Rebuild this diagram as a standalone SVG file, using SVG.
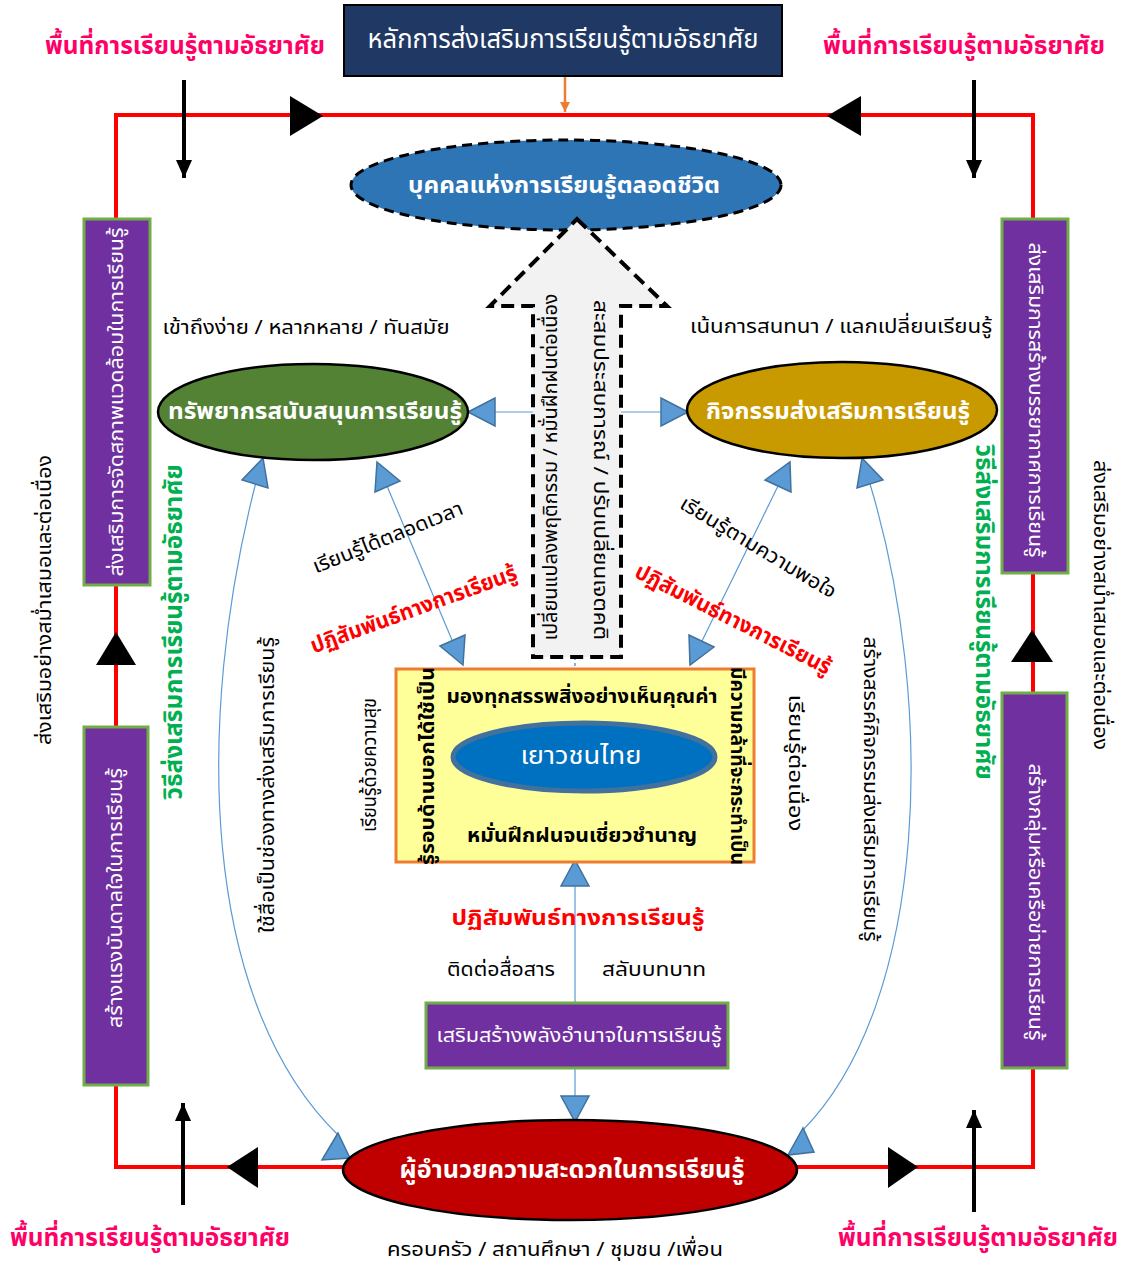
<svg xmlns="http://www.w3.org/2000/svg" width="1129" height="1265" viewBox="0 0 1129 1265">
<style>
text{font-family:"Noto Sans Thai","Tahoma","Leelawadee UI","Loma","Garuda","Noto Sans",sans-serif;dominant-baseline:central;text-anchor:middle}
.blk{font-size:20px;fill:#000}
.wh{font-size:20px;fill:#fff}
.whb{font-size:23px;fill:#fff;font-weight:bold}
.pink{font-size:25px;fill:#ff0066;font-weight:bold}
.red{font-size:22px;fill:#ff0000;font-weight:bold}
.grn{font-size:24px;fill:#00b050;font-weight:bold}
.bb{font-size:20px;fill:#000;font-weight:bold}
.purple{fill:#7030a0;stroke:#70ad47;stroke-width:3}
.bah{fill:#5b9bd5;stroke:#41719c;stroke-width:1.5}
.bl{fill:none;stroke:#5b9bd5;stroke-width:1.2}
.tri{fill:#000}
.barr{stroke:#000;stroke-width:4;marker-end:url(#ah)}
</style>
<defs>
<marker id="ah" markerUnits="userSpaceOnUse" markerWidth="18" markerHeight="20" refX="18" refY="8" orient="auto">
<path d="M0,0 L18,8 L0,16 z" fill="#000"/>
</marker>
<marker id="oh" markerUnits="userSpaceOnUse" markerWidth="12" markerHeight="12" refX="10" refY="5" orient="auto">
<path d="M0,0 L10,5 L0,10 z" fill="#ed7d31"/>
</marker>
</defs>

<g id="frame">
<rect x="116" y="115" width="917" height="1052" fill="none" stroke="#ff0000" stroke-width="4"/>
<polygon class="tri" points="323,116 290,96 290,136"/>
<polygon class="tri" points="827,116 861,96 861,136"/>
<polygon class="tri" points="116,632 96,665 136,665"/>
<polygon class="tri" points="1032,630 1011,662 1053,662"/>
<polygon class="tri" points="227,1167 258,1147 258,1188"/>
<polygon class="tri" points="918,1167 888,1147 888,1188"/>
</g>

<g id="connectors">
<line class="barr" x1="184" y1="80" x2="184" y2="178"/>
<line class="barr" x1="974" y1="80" x2="974" y2="178"/>
<line class="barr" x1="183" y1="1205" x2="183" y2="1103"/>
<line class="barr" x1="974" y1="1212" x2="974" y2="1110"/>
<line x1="565" y1="76" x2="565" y2="112" stroke="#ed7d31" stroke-width="2.5" marker-end="url(#oh)"/>
<line class="bl" x1="533" y1="412" x2="492" y2="412"/>
<line class="bl" x1="621" y1="412" x2="663" y2="412"/>
<line class="bl" x1="387" y1="486" x2="452" y2="640"/>
<line class="bl" x1="778" y1="486" x2="702" y2="641"/>
<path class="bl" d="M256,482 C195,720 200,1000 338,1135"/>
<path class="bl" d="M870,484 C935,700 930,1000 803,1130"/>
<line x1="575" y1="657" x2="575" y2="669" stroke="#5b9bd5" stroke-width="1.5" stroke-dasharray="3,3"/>
<line class="bl" x1="575" y1="885" x2="575" y2="1003"/>
<line class="bl" x1="575" y1="1068" x2="575" y2="1097"/>
<polygon class="bah" points="468,412 495,398 495,426"/>
<polygon class="bah" points="688,412 661,398 661,426"/>
<polygon class="bah" points="377,462 400,481 375,492"/>
<polygon class="bah" points="463,665 440,646 465,635"/>
<polygon class="bah" points="790,462 791,492 765,480"/>
<polygon class="bah" points="690,665 689,635 714,647"/>
<polygon class="bah" points="263,458 268,488 242,480"/>
<polygon class="bah" points="862,458 883,480 857,488"/>
<polygon class="bah" points="338,1133 322,1160 350,1158"/>
<polygon class="bah" points="803,1128 788,1155 814,1152"/>
<polygon class="bah" points="575,860 561,886 589,886"/>
<polygon class="bah" points="575,1122 561,1096 589,1096"/>
</g>

<g id="top-principle">
<rect x="344" y="5" width="438" height="71" fill="#203864" stroke="#000" stroke-width="2"/>
<text class="wh" x="563" y="40" style="font-size:26px" textLength="391" lengthAdjust="spacingAndGlyphs">หลักการส่งเสริมการเรียนรู้ตามอัธยาศัย</text>
</g>

<g id="space-labels">
<text class="pink" x="185" y="46" textLength="280" lengthAdjust="spacingAndGlyphs">พื้นที่การเรียนรู้ตามอัธยาศัย</text>
<text class="pink" x="964" y="46" textLength="282" lengthAdjust="spacingAndGlyphs">พื้นที่การเรียนรู้ตามอัธยาศัย</text>
<text class="pink" x="150" y="1238" textLength="280" lengthAdjust="spacingAndGlyphs">พื้นที่การเรียนรู้ตามอัธยาศัย</text>
<text class="pink" x="978" y="1238" textLength="280" lengthAdjust="spacingAndGlyphs">พื้นที่การเรียนรู้ตามอัธยาศัย</text>
</g>

<g id="lifelong">
<ellipse cx="566" cy="185" rx="215" ry="45" fill="#2e75b6" stroke="#000" stroke-width="3" stroke-dasharray="10,6"/>
<text class="whb" x="564" y="186" textLength="312" lengthAdjust="spacingAndGlyphs">บุคคลแห่งการเรียนรู้ตลอดชีวิต</text>
</g>

<g id="big-arrow">
<polygon points="577,219 667,306 621,306 621,657 533,657 533,306 490,306" fill="#f2f2f2" stroke="#000" stroke-width="4" stroke-dasharray="13,7"/>
<text class="blk" transform="rotate(-90 551 467)" x="551" y="467" textLength="347" lengthAdjust="spacingAndGlyphs">เปลี่ยนแปลงพฤติกรรม  /  หมั่นฝึกฝนต่อเนื่อง</text>
<text class="blk" transform="rotate(90 600 470)" x="600" y="470" textLength="340" lengthAdjust="spacingAndGlyphs">สะสมประสบการณ์  /  ปรับเปลี่ยนเจตคติ</text>
</g>

<g id="resources">
<ellipse cx="313" cy="412" rx="155" ry="48" fill="#548235" stroke="#000" stroke-width="2.5"/>
<text class="whb" x="315" y="412" textLength="294" lengthAdjust="spacingAndGlyphs">ทรัพยากรสนับสนุนการเรียนรู้</text>
<text class="blk" x="306" y="328" textLength="287" lengthAdjust="spacingAndGlyphs">เข้าถึงง่าย / หลากหลาย / ทันสมัย</text>
</g>

<g id="activities">
<ellipse cx="842" cy="410" rx="155" ry="48" fill="#c99a00" stroke="#000" stroke-width="2.5"/>
<text class="whb" x="838" y="412" textLength="264" lengthAdjust="spacingAndGlyphs">กิจกรรมส่งเสริมการเรียนรู้</text>
<text class="blk" x="841" y="327" textLength="302" lengthAdjust="spacingAndGlyphs">เน้นการสนทนา / แลกเปลี่ยนเรียนรู้</text>
</g>

<g id="diagonal-labels">
<text class="blk" transform="rotate(-22 388 538)" x="388" y="538" textLength="160" lengthAdjust="spacingAndGlyphs">เรียนรู้ได้ตลอดเวลา</text>
<text class="red" transform="rotate(-20 414 610)" x="414" y="610" textLength="218" lengthAdjust="spacingAndGlyphs">ปฏิสัมพันธ์ทางการเรียนรู้</text>
<text class="blk" transform="rotate(31 758 548)" x="758" y="548" textLength="178" lengthAdjust="spacingAndGlyphs">เรียนรู้ตามความพอใจ</text>
<text class="red" transform="rotate(27 733 620)" x="733" y="620" textLength="217" lengthAdjust="spacingAndGlyphs">ปฏิสัมพันธ์ทางการเรียนรู้</text>
</g>

<g id="youth">
<rect x="396" y="669" width="358" height="193" fill="#ffff99" stroke="#ed7d31" stroke-width="3"/>
<text class="bb" x="582" y="697" textLength="271" lengthAdjust="spacingAndGlyphs">มองทุกสรรพสิ่งอย่างเห็นคุณค่า</text>
<ellipse cx="584" cy="757" rx="131" ry="34" fill="#0070c0" stroke="#41719c" stroke-width="5"/>
<text class="wh" x="581" y="757" style="font-size:24px" textLength="121" lengthAdjust="spacingAndGlyphs">เยาวชนไทย</text>
<text class="bb" x="582" y="836" textLength="230" lengthAdjust="spacingAndGlyphs">หมั่นฝึกฝนจนเชี่ยวชำนาญ</text>
<text class="bb" transform="rotate(-90 428 766)" x="428" y="766" textLength="198" lengthAdjust="spacingAndGlyphs">รู้รอบด้านบอกได้ใช้เป็น</text>
<text class="bb" transform="rotate(90 737 766)" x="737" y="766" textLength="198" lengthAdjust="spacingAndGlyphs">มีความกล้าที่จะกระทำเป็น</text>
<text class="blk" transform="rotate(-90 370 765)" x="370" y="765" textLength="134" lengthAdjust="spacingAndGlyphs">เรียนรู้ด้วยความสุข</text>
<text class="blk" transform="rotate(90 795 763)" x="795" y="763" textLength="137" lengthAdjust="spacingAndGlyphs">เรียนรู้ต่อเนื่อง</text>
</g>

<g id="interaction">
<text class="red" x="578" y="918" textLength="253" lengthAdjust="spacingAndGlyphs">ปฏิสัมพันธ์ทางการเรียนรู้</text>
<text class="blk" x="501" y="970" textLength="108" lengthAdjust="spacingAndGlyphs">ติดต่อสื่อสาร</text>
<text class="blk" x="654" y="970" textLength="104" lengthAdjust="spacingAndGlyphs">สลับบทบาท</text>
</g>

<g id="empower">
<rect class="purple" x="426" y="1003" width="302" height="65"/>
<text class="wh" x="579" y="1036" textLength="285" lengthAdjust="spacingAndGlyphs">เสริมสร้างพลังอำนาจในการเรียนรู้</text>
</g>

<g id="facilitator">
<ellipse cx="570" cy="1170" rx="227" ry="50" fill="#c00000" stroke="#000" stroke-width="2.5"/>
<text class="whb" x="572" y="1170" style="font-size:25px" textLength="345" lengthAdjust="spacingAndGlyphs">ผู้อำนวยความสะดวกในการเรียนรู้</text>
<text class="blk" x="555" y="1250" textLength="336" lengthAdjust="spacingAndGlyphs">ครอบครัว / สถานศึกษา / ชุมชน /เพื่อน</text>
</g>

<g id="left-side">
<rect class="purple" x="84" y="219" width="66" height="366"/>
<text class="wh" transform="rotate(-90 117 402)" x="117" y="402" textLength="349" lengthAdjust="spacingAndGlyphs">ส่งเสริมการจัดสภาพแวดล้อมในการเรียนรู้</text>
<rect class="purple" x="84" y="727" width="64" height="358"/>
<text class="wh" transform="rotate(-90 116 898)" x="116" y="898" textLength="260" lengthAdjust="spacingAndGlyphs">สร้างแรงบันดาลใจในการเรียนรู้</text>
<text class="blk" transform="rotate(-90 45 600)" x="45" y="600" textLength="290" lengthAdjust="spacingAndGlyphs">ส่งเสริมอย่างสม่ำเสมอและต่อเนื่อง</text>
<text class="grn" transform="rotate(-90 175 632)" x="175" y="632" textLength="335" lengthAdjust="spacingAndGlyphs">วิธีส่งเสริมการเรียนรู้ตามอัธยาศัย</text>
<text class="blk" transform="rotate(-90 268 785)" x="268" y="785" textLength="296" lengthAdjust="spacingAndGlyphs">ใช้สื่อเป็นช่องทางส่งเสริมการเรียนรู้</text>
</g>

<g id="right-side">
<rect class="purple" x="1002" y="219" width="66" height="354"/>
<text class="wh" transform="rotate(90 1035 400)" x="1035" y="400" textLength="315" lengthAdjust="spacingAndGlyphs">ส่งเสริมการสร้างบรรยากาศการเรียนรู้</text>
<rect class="purple" x="1002" y="693" width="65" height="375"/>
<text class="wh" transform="rotate(90 1035 902)" x="1035" y="902" textLength="277" lengthAdjust="spacingAndGlyphs">สร้างกลุ่มหรือเครือข่ายการเรียนรู้</text>
<text class="blk" transform="rotate(90 1100 605)" x="1100" y="605" textLength="290" lengthAdjust="spacingAndGlyphs">ส่งเสริมอย่างสม่ำเสมอและต่อเนื่อง</text>
<text class="grn" transform="rotate(90 983 612)" x="983" y="612" textLength="335" lengthAdjust="spacingAndGlyphs">วิธีส่งเสริมการเรียนรู้ตามอัธยาศัย</text>
<text class="blk" transform="rotate(90 870 789)" x="870" y="789" textLength="305" lengthAdjust="spacingAndGlyphs">สร้างสรรค์กิจกรรมส่งเสริมการเรียนรู้</text>
</g>
</svg>
